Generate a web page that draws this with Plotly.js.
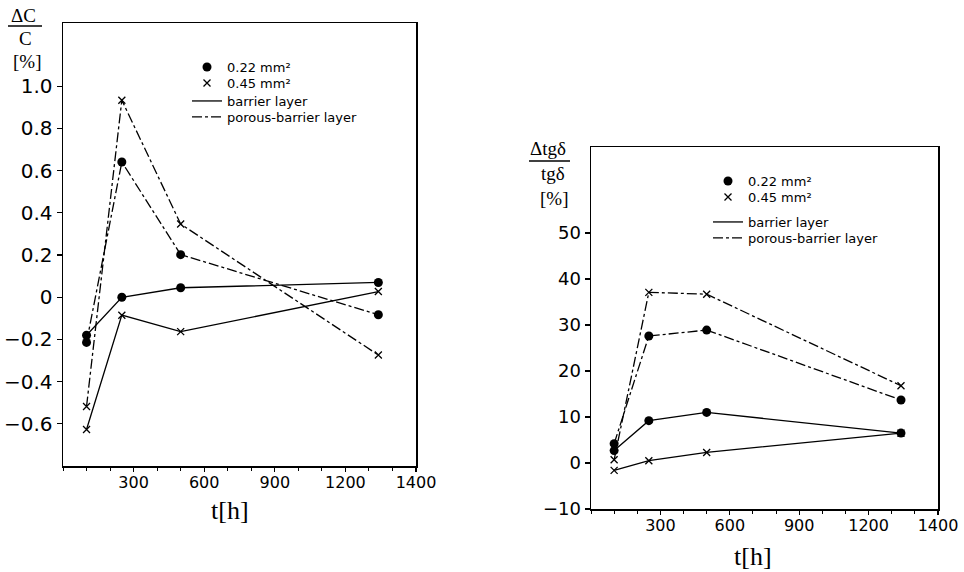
<!DOCTYPE html>
<html>
<head>
<meta charset="utf-8">
<script src="https://cdn.plot.ly/plotly-3.0.1.min.js"></script>
<style>html,body{margin:0;padding:0;background:#fff;}#chart{width:964px;height:572px;}</style>
</head>
<body>
<div id="chart"></div>
<script>
// ---- data ----
const t = [100, 250, 500, 1340];

// left panel: ΔC/C [%]
const dc_022_barrier = [-0.18, 0.0, 0.045, 0.07];
const dc_045_barrier = [-0.627, -0.085, -0.163, 0.027];
const dc_022_porous  = [-0.214, 0.641, 0.202, -0.083];
const dc_045_porous  = [-0.518, 0.934, 0.347, -0.274];

// right panel: Δtgδ/tgδ [%]
const dtg_022_barrier = [2.7, 9.2, 11.0, 6.5];
const dtg_045_barrier = [-1.6, 0.5, 2.3, 6.5];
const dtg_022_porous  = [4.2, 27.6, 28.9, 13.7];
const dtg_045_porous  = [0.7, 37.1, 36.7, 16.8];

const xTickVals = [300, 600, 900, 1200, 1500];
const xTickText = ['300', '600', '900', '1200', '1400'];
const leftYVals = [-0.6, -0.4, -0.2, 0, 0.2, 0.4, 0.6, 0.8, 1.0];
const leftYText = ['\u22120.6', '\u22120.4', '\u22120.2', '0', '0.2', '0.4', '0.6', '0.8', '1.0'];
const rightYVals = [-10, 0, 10, 20, 30, 40, 50];
const rightYText = ['\u221210', '0', '10', '20', '30', '40', '50'];

const legendLabels = ['0.22 mm\u00b2', '0.45 mm\u00b2', 'barrier layer', 'porous-barrier layer'];
const xTitle = 't[h]';

// ---- styles ----
const W = 964, H = 572;
const px = v => v / W, py = v => 1 - v / H;
const DASHDOT = '10px,3px,3px,3px';
const dotMarker = {symbol: 'circle', size: 9, color: 'black'};
const xMarker = {symbol: 'x-thin-open', size: 7, color: 'black', line: {color: 'black', width: 1.3}};

function series(xa, ya, y, marker, dash) {
  return {x: t, y: y, xaxis: xa, yaxis: ya, type: 'scatter', mode: 'lines+markers',
    line: {color: 'black', width: 1.3, dash: dash}, marker: marker,
    showlegend: false, hoverinfo: 'skip'};
}
function legendItems(xa, ya, legends) {
  return [
    {x: [null], y: [null], xaxis: xa, yaxis: ya, mode: 'markers', marker: dotMarker, name: legendLabels[0], legend: legends[0]},
    {x: [null], y: [null], xaxis: xa, yaxis: ya, mode: 'markers', marker: xMarker, name: legendLabels[1], legend: legends[1]},
    {x: [null], y: [null], xaxis: xa, yaxis: ya, mode: 'lines', line: {color: 'black', width: 1.3}, name: legendLabels[2], legend: legends[2]},
    {x: [null], y: [null], xaxis: xa, yaxis: ya, mode: 'lines', line: {color: 'black', width: 1.3, dash: DASHDOT}, name: legendLabels[3], legend: legends[3]}
  ];
}

const traces = [
  series('x', 'y', dc_022_barrier, dotMarker, 'solid'),
  series('x', 'y', dc_045_barrier, xMarker, 'solid'),
  series('x', 'y', dc_022_porous, dotMarker, DASHDOT),
  series('x', 'y', dc_045_porous, xMarker, DASHDOT),
  series('x2', 'y2', dtg_022_barrier, dotMarker, 'solid'),
  series('x2', 'y2', dtg_045_barrier, xMarker, 'solid'),
  series('x2', 'y2', dtg_022_porous, dotMarker, DASHDOT),
  series('x2', 'y2', dtg_045_porous, xMarker, DASHDOT),
  ...legendItems('x', 'y', ['legend', 'legend2', 'legend3', 'legend4']),
  ...legendItems('x2', 'y2', ['legend5', 'legend6', 'legend7', 'legend8'])
];

const tickFont = {family: 'DejaVu Sans', size: 16, color: 'black'};
const serif = 'Liberation Serif';
function xAxis(domain, anchor) {
  return {domain: domain, anchor: anchor, range: [0, 1500], tickmode: 'array',
    tickvals: xTickVals, ticktext: xTickText, ticks: 'outside', ticklen: 4, tickwidth: 1.2,
    ticklabelstandoff: -3,
    tickcolor: 'black', showline: true, linecolor: 'black', linewidth: 1.5, mirror: true,
    showgrid: false, zeroline: false, tickfont: tickFont,
    minor: {tickmode: 'linear', tick0: 0, dtick: 100, ticks: 'outside', ticklen: 3, tickwidth: 1, tickcolor: 'black', showgrid: false}};
}
function yAxis(domain, anchor, range, vals, text, size) {
  return {domain: domain, anchor: anchor, range: range, tickmode: 'array',
    tickvals: vals, ticktext: text, ticks: 'outside', ticklen: 5, tickwidth: 1.2,
    tickcolor: 'black', showline: true, linecolor: 'black', linewidth: 1.5, mirror: true,
    showgrid: false, zeroline: false, tickfont: {family: 'DejaVu Sans', size: size, color: 'black'}};
}
function legendAt(x, top) {
  return {x: px(x), y: py(top), xanchor: 'left', yanchor: 'top', bgcolor: 'rgba(0,0,0,0)', borderwidth: 0,
    font: {family: 'DejaVu Sans', size: 13, color: 'black'}};
}

function ann(text, x, y, size) {
  return {text: text, x: px(x), y: py(y), xref: 'paper', yref: 'paper', xanchor: 'center', yanchor: 'middle',
    showarrow: false, font: {family: serif, size: size, color: 'black'}};
}
function bar(x0, x1, y) {
  return {type: 'line', xref: 'paper', yref: 'paper', x0: px(x0), x1: px(x1), y0: py(y), y1: py(y),
    line: {color: 'black', width: 1.3}};
}

const layout = {
  width: W, height: H, margin: {l: 0, r: 0, t: 0, b: 0},
  paper_bgcolor: 'white', plot_bgcolor: 'white', showlegend: true,
  xaxis: xAxis([px(63), px(416)], 'y'),
  yaxis: yAxis([py(466), py(23)], 'x', [-0.8, 1.3], leftYVals, leftYText, 20),
  xaxis2: xAxis([px(591), px(938)], 'y2'),
  yaxis2: yAxis([py(509), py(147)], 'x2', [-10, 68.7], rightYVals, rightYText, 18),
  legend: legendAt(187, 52), legend2: legendAt(187, 68), legend3: legendAt(187, 86), legend4: legendAt(187, 102),
  legend5: legendAt(708, 166), legend6: legendAt(708, 182), legend7: legendAt(708, 207), legend8: legendAt(708, 223),
  annotations: [
    ann('\u0394C', 23, 15, 19), ann('C', 25, 38, 19), ann('[%]', 27, 61, 19),
    ann('\u0394tg\u03b4', 548, 149, 19), ann('tg\u03b4', 553, 173, 19), ann('[%]', 554, 198, 19),
    ann(xTitle, 230, 510, 26), ann(xTitle, 753, 556, 26)
  ],
  shapes: [bar(8, 42, 26), bar(529, 570, 161)]
};

Plotly.newPlot('chart', traces, layout, {staticPlot: true, displayModeBar: false});
</script>
</body>
</html>
